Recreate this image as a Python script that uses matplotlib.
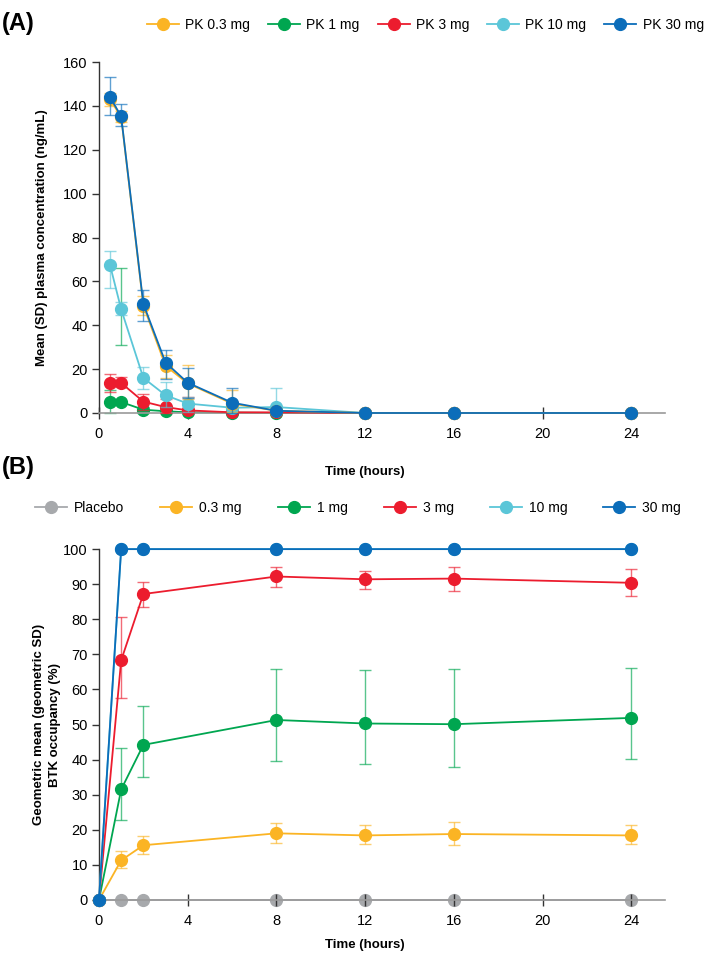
import numpy as np
import matplotlib
matplotlib.use('Agg')
import matplotlib.pyplot as plt
from matplotlib.lines import Line2D

plt.rcParams['font.family'] = ['Liberation Sans', 'DejaVu Sans']

# ---- panel A : PK concentration (ng/mL)
t_pk = [0.5, 1, 2, 3, 4, 6, 8, 12, 16, 24]
pk_labels = ['PK 0.3 mg', 'PK 1 mg', 'PK 3 mg', 'PK 10 mg', 'PK 30 mg']
pk_03 = [143, 135, 49, 21.5, 13.5, 4.3, 1.0, 0, 0, 0]
pk_03_lo = [140, 132.5, 44.5, 16, 6.5, 0.5, 0, np.nan, np.nan, np.nan]
pk_03_hi = [146, 137.5, 53.5, 26.5, 21.8, 10.3, 2, np.nan, np.nan, np.nan]
pk_1 = [5.0, 5.0, 1.5, 0.8, 0.3, 0.2, 0, 0, 0, 0]
pk_1_lo = [0, 31.2, 0.2, np.nan, np.nan, np.nan, np.nan, np.nan, np.nan, np.nan]
pk_1_hi = [10.3, 66.2, 2.8, np.nan, np.nan, np.nan, np.nan, np.nan, np.nan, np.nan]
pk_3 = [13.7, 13.7, 5.2, 2.7, 1.2, 0.3, 0.3, 0, 0, 0]
pk_3_lo = [9.6, 11.9, 1.2, 0, 0, np.nan, np.nan, np.nan, np.nan, np.nan]
pk_3_hi = [17.6, 16.4, 8.8, 6.5, 7.3, np.nan, np.nan, np.nan, np.nan, np.nan]
pk_10 = [67.4, 47.3, 16, 8.1, 4.3, 2.4, 2.7, 0, 0, 0]
pk_10_lo = [57, 44.6, 10.8, 2.7, 0.5, np.nan, 0, np.nan, np.nan, np.nan]
pk_10_hi = [73.9, 50.6, 21, 14.1, 7.3, np.nan, 11.4, np.nan, np.nan, np.nan]
pk_30 = [144, 135.3, 49.7, 23, 13.8, 4.7, 1.0, 0, 0, 0]
pk_30_lo = [136, 130.8, 42, 15.5, 7, 0, 0, np.nan, np.nan, np.nan]
pk_30_hi = [153, 140.7, 56, 28.5, 20.5, 11.5, 2, np.nan, np.nan, np.nan]

# ---- panel B : BTK occupancy (%)
t_bo = [0, 1, 2, 8, 12, 16, 24]
bo_labels = ['Placebo', '0.3 mg', '1 mg', '3 mg', '10 mg', '30 mg']
bo_pl = [0, 0, 0, 0, 0, 0, 0]
bo_03 = [0, 11.3, 15.6, 19.0, 18.4, 18.8, 18.4]
bo_03_lo = [np.nan, 9.2, 13.2, 16.2, 16.0, 15.6, 16.0]
bo_03_hi = [np.nan, 13.9, 18.2, 22.0, 21.4, 22.2, 21.4]
bo_1 = [0, 31.5, 44.2, 51.3, 50.3, 50.1, 51.9]
bo_1_lo = [np.nan, 22.8, 35.0, 39.7, 38.7, 38.0, 40.3]
bo_1_hi = [np.nan, 43.2, 55.2, 65.8, 65.5, 65.8, 66.1]
bo_3 = [0, 68.3, 87.2, 92.2, 91.4, 91.6, 90.4]
bo_3_lo = [np.nan, 57.5, 83.5, 89.3, 88.6, 88.1, 86.6]
bo_3_hi = [np.nan, 80.7, 90.5, 94.8, 93.8, 94.8, 94.2]
bo_10 = [0, 100, 100, 100, 100, 100, 100]
bo_30 = [0, 100, 100, 100, 100, 100, 100]

c_pl = '#a7a9ac'
c_03 = '#fbb424'
c_1 = '#00a650'
c_3 = '#ec1c2e'
c_10 = '#5bc6d8'
c_30 = '#0b6dba'


def series(ax, t, y, lo, hi, col, z):
    t = np.array(t, float)
    if lo is not None:
        lo = np.array(lo, float)
        hi = np.array(hi, float)
        m = ~np.isnan(lo)
        ax.vlines(t[m], lo[m], hi[m], color=col, lw=1.0, alpha=0.65, zorder=z, clip_on=False)
        ax.plot(t[m], lo[m], '_', color=col, ms=8.5, mew=1.0, alpha=0.65, zorder=z, clip_on=False)
        ax.plot(t[m], hi[m], '_', color=col, ms=8.5, mew=1.0, alpha=0.65, zorder=z, clip_on=False)
    ax.plot(t, y, '-o', color=col, lw=1.3, ms=8.5, zorder=z + 0.5, clip_on=False)


def style(ax, ymax, ystep, xlab_y):
    ax.set_xlim(0, 25.5)
    ax.set_ylim(0, ymax)
    ax.set_xticks(range(0, 25, 4))
    ax.set_yticks(np.arange(0, ymax + 1, ystep))
    for s in ['top', 'right']:
        ax.spines[s].set_visible(False)
    ax.spines['bottom'].set_color('#9a9a9a')
    ax.spines['bottom'].set_linewidth(1.2)
    ax.spines['left'].set_color('#333333')
    ax.spines['left'].set_linewidth(1.0)
    ax.tick_params(axis='x', direction='inout', length=8, width=1, color='#333333',
                   labelsize=10.5, pad=6)
    ax.tick_params(axis='y', direction='out', length=5, width=1, color='#333333',
                   labelsize=10.5, pad=3)
    ax.set_xlabel('Time (hours)', fontsize=9.5, fontweight='bold')
    ax.xaxis.set_label_coords(0.47, xlab_y)


def handle(col):
    return Line2D([], [], color=col, lw=1.3, marker='o', ms=8.5)


fig = plt.figure(figsize=(7.09, 9.56), dpi=100)

#------------- (A)
axA = fig.add_axes([0.1396, 0.568, 0.798, 0.367])
series(axA, t_pk, pk_1, pk_1_lo, pk_1_hi, c_1, 2)
series(axA, t_pk, pk_3, pk_3_lo, pk_3_hi, c_3, 3)
series(axA, t_pk, pk_10, pk_10_lo, pk_10_hi, c_10, 4)
series(axA, t_pk, pk_03, pk_03_lo, pk_03_hi, c_03, 5)
series(axA, t_pk, pk_30, pk_30_lo, pk_30_hi, c_30, 6)
style(axA, 160, 20, -0.15)
axA.set_ylabel('Mean (SD) plasma concentration (ng/mL)', fontsize=9.5, fontweight='bold')
axA.yaxis.set_label_coords(-0.09, 0.5)
fig.text(0.003, 0.975, '(A)', fontsize=17, fontweight='bold', va='center')
fig.legend([handle(c) for c in [c_03, c_1, c_3, c_10, c_30]], pk_labels,
           loc='center', bbox_to_anchor=(0.6, 0.974), ncol=5, frameon=False,
           fontsize=10, handlelength=2.3, columnspacing=1.3, handletextpad=0.45)

#------------- (B)
axB = fig.add_axes([0.1396, 0.0586, 0.798, 0.367])
series(axB, t_bo, bo_pl, None, None, c_pl, 1)
series(axB, t_bo, bo_03, bo_03_lo, bo_03_hi, c_03, 2)
series(axB, t_bo, bo_1, bo_1_lo, bo_1_hi, c_1, 3)
series(axB, t_bo, bo_3, bo_3_lo, bo_3_hi, c_3, 4)
series(axB, t_bo, bo_10, None, None, c_10, 5)
series(axB, t_bo, bo_30, None, None, c_30, 6)
style(axB, 100, 10, -0.112)
axB.set_ylabel('Geometric mean (geometric SD)\nBTK occupancy (%)', fontsize=9.5,
               fontweight='bold', linespacing=1.4)
axB.yaxis.set_label_coords(-0.068, 0.5)
fig.text(0.003, 0.511, '(B)', fontsize=17, fontweight='bold', va='center')
fig.legend([handle(c) for c in [c_pl, c_03, c_1, c_3, c_10, c_30]], bo_labels,
           loc='center', bbox_to_anchor=(0.505, 0.469), ncol=6, frameon=False,
           fontsize=10, handlelength=2.3, columnspacing=2.6, handletextpad=0.5)

plt.savefig('out.png', dpi=100)
